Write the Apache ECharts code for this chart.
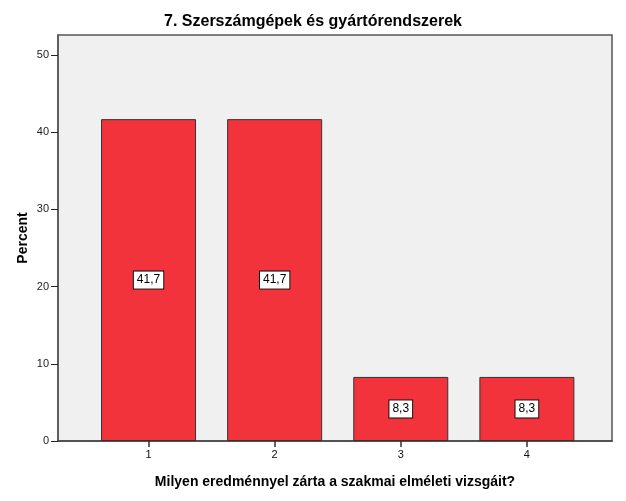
<!DOCTYPE html>
<html>
<head>
<meta charset="utf-8">
<script src="https://cdn.jsdelivr.net/npm/echarts@6/dist/echarts.min.js"></script>
<style>html,body{margin:0;padding:0;background:#fff}#c{width:626px;height:501px}</style>
</head>
<body>
<div id="c"></div>
<script>
const titleText = '7. Szerszámgépek és gyártórendszerek';
const categories = [1, 2, 3, 4];
const percents = [41.7, 41.7, 8.3, 8.3];
const yTicks = [0, 10, 20, 30, 40, 50];
const xName = 'Milyen eredménnyel zárta a szakmai elméleti vizsgáit?';
const yName = 'Percent';

const font = '"Liberation Sans", Arial, sans-serif';
const chart = echarts.init(document.getElementById('c'));
chart.setOption({
  backgroundColor: '#fff',
  animation: false,
  title: {
    text: titleText, left: 'center', top: 9,
    textStyle: { fontFamily: font, fontSize: 16, fontWeight: 'bold', color: '#000' }
  },
  grid: {
    left: 58, right: 14, top: 35, bottom: 60,
    show: true, backgroundColor: '#f0f0f0', borderColor: '#555', borderWidth: 1.5
  },
  xAxis: {
    type: 'value', min: 0.282, max: 4.675,
    name: xName, nameLocation: 'middle', nameGap: 34,
    nameTextStyle: { fontFamily: font, fontSize: 14, fontWeight: 'bold', color: '#000' },
    splitLine: { show: false },
    axisLine: { show: true, lineStyle: { color: '#444', width: 1.5 } },
    axisTick: { show: true, inside: false, customValues: categories, length: 6, lineStyle: { color: '#333', width: 1.5 } },
    axisLabel: { customValues: categories, fontFamily: font, fontSize: 11, color: '#111', margin: 8 }
  },
  yAxis: {
    type: 'value', min: 0, max: 52.6,
    name: yName, nameLocation: 'middle', nameGap: 28, nameMoveOverlap: false,
    nameTextStyle: { fontFamily: font, fontSize: 14, fontWeight: 'bold', color: '#000' },
    splitLine: { show: false },
    axisLine: { show: true, lineStyle: { color: '#555', width: 1.5 } },
    axisTick: { show: true, inside: false, customValues: yTicks, length: 7, lineStyle: { color: '#222', width: 1 } },
    axisLabel: { customValues: yTicks, fontFamily: font, fontSize: 11, color: '#222', margin: 9 }
  },
  series: [{
    type: 'bar',
    barWidth: 95,
    data: categories.map((c, i) => [c, percents[i]]),
    itemStyle: { color: '#f2333c', borderColor: '#333', borderWidth: 1 },
    label: {
      show: true, position: 'inside',
      formatter: p => String(p.value[1]).replace('.', ','),
      fontFamily: font, fontSize: 12, color: '#000',
      backgroundColor: '#fff', borderColor: '#111', borderWidth: 1,
      padding: [3, 3, 2, 3]
    }
  }]
});
</script>
</body>
</html>
